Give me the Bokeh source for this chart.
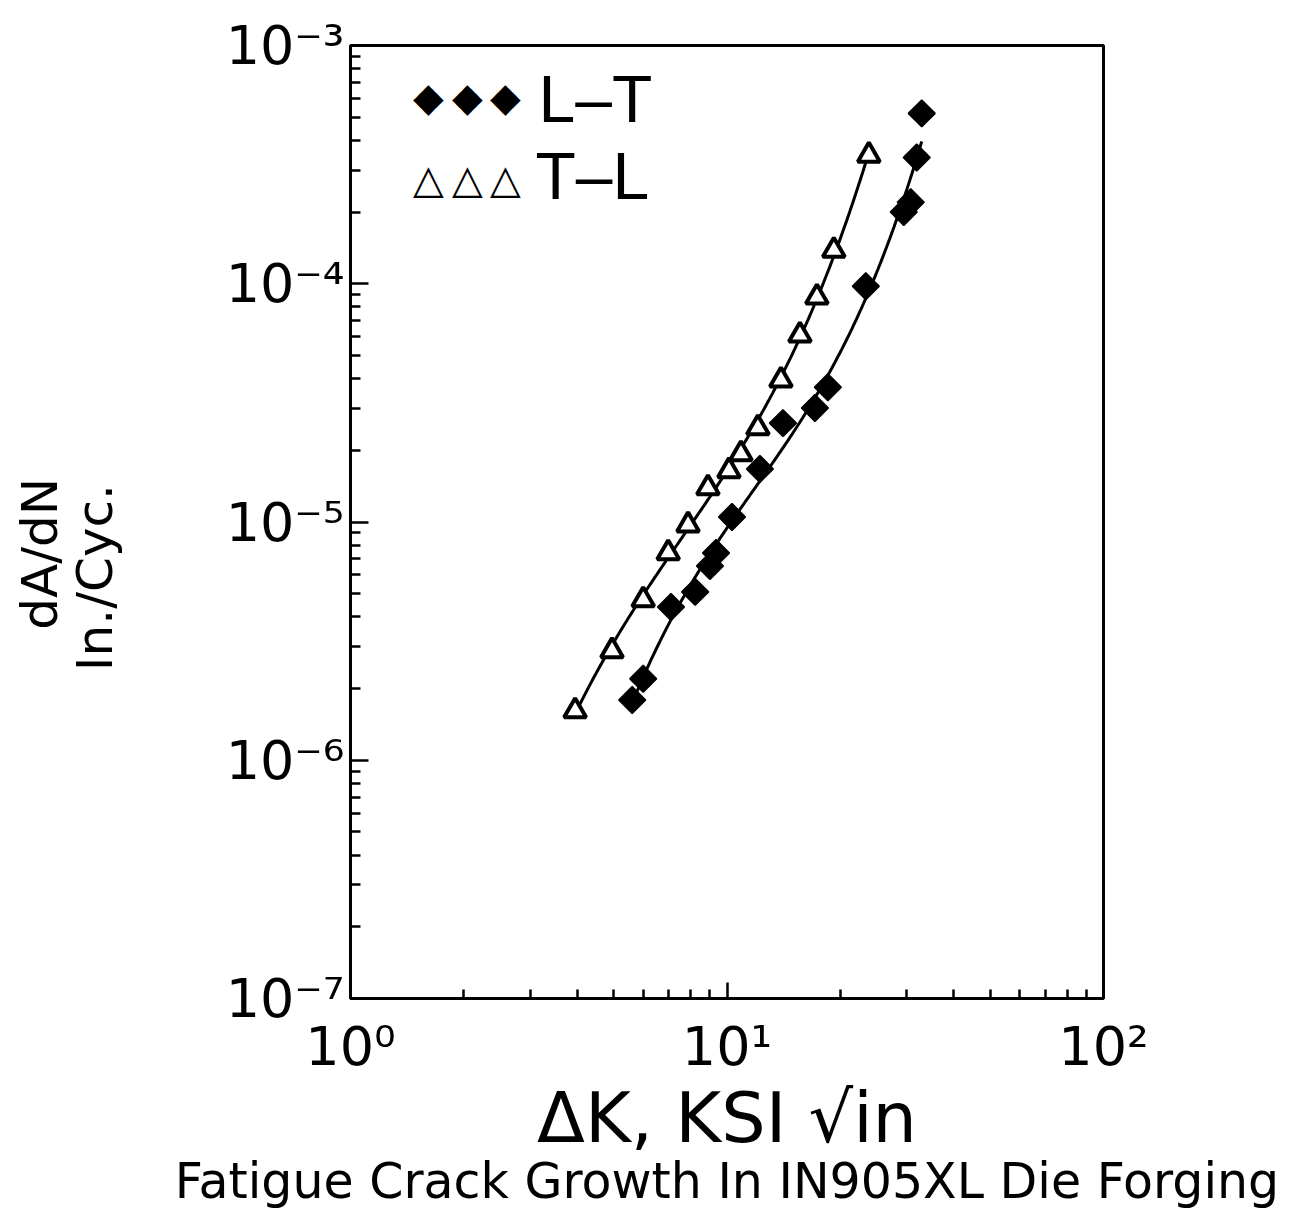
import numpy as np
from bokeh.plotting import figure
from bokeh.models import Range1d, FixedTicker, Label, LinearAxis
from bokeh.embed import file_html
from bokeh.resources import INLINE

# ---- data ----
tl_dk = [3.95, 4.95, 5.99, 6.98, 7.88, 8.90, 10.12, 10.89, 12.08, 13.91, 15.62, 17.33, 19.22, 23.81]
tl_dadn = [1.61e-6, 2.88e-6, 4.71e-6, 7.41e-6, 9.71e-6, 1.39e-5, 1.64e-5, 1.93e-5,
           2.48e-5, 3.94e-5, 6.08e-5, 8.78e-5, 1.38e-4, 3.46e-4]
lt_dk = [5.60, 5.99, 7.10, 8.23, 9.01, 9.35, 10.31, 12.23, 14.08, 17.12, 18.53, 23.37,
         29.48, 30.76, 31.91, 32.90]
lt_dadn = [1.79e-6, 2.20e-6, 4.40e-6, 5.09e-6, 6.54e-6, 7.41e-6, 1.05e-5, 1.67e-5,
           2.60e-5, 3.01e-5, 3.68e-5, 9.76e-5, 2.00e-4, 2.20e-4, 3.39e-4, 5.19e-4]

x_decades = [0, 1, 2]
y_decades = [-3, -4, -5, -6, -7]
legend_names = ["L\u2013T", "T\u2013L"]
x_title = "\u0394K, KSI \u221ain"
y_title_top = "dA/dN"
y_title_bottom = "In./Cyc."
caption = "Fatigue Crack Growth In IN905XL Die Forging"

FONT = "DejaVu Sans"
NBSP = "\u00a0"
SUP = str.maketrans("-0123456789", "\u207b\u2070\u00b9\u00b2\u00b3\u2074\u2075\u2076\u2077\u2078\u2079")


def fit_curve(xs, ys, deg=3, n=200):
    lx, ly = np.log10(xs), np.log10(ys)
    c = np.polyfit(lx, ly, deg)
    gx = np.linspace(lx.min(), lx.max(), n)
    return 10 ** gx, 10 ** np.polyval(c, gx)


p = figure(width=1300, height=1216, x_axis_type="log", y_axis_type="log",
           x_range=Range1d(1, 100), y_range=Range1d(1e-7, 1e-3),
           output_backend="svg", toolbar_location=None,
           min_border_left=350, min_border_right=197,
           min_border_top=45, min_border_bottom=218)
p.background_fill_color = "white"
p.border_fill_color = "white"
p.outline_line_color = "black"
p.outline_line_width = 3
p.xgrid.visible = False
p.ygrid.visible = False

xt = [10.0 ** d for d in x_decades]
xm = [m * 10.0 ** d for d in x_decades[:-1] for m in range(2, 10)]
yt = [10.0 ** d for d in y_decades]
ym = [m * 10.0 ** d for d in y_decades[1:] for m in range(2, 10)]

for ax, maj, mnr, decs, tin, tmin in ((p.xaxis[0], xt, xm, x_decades, 16, 9),
                                      (p.yaxis[0], yt, ym, y_decades, 18, 10)):
    ax.ticker = FixedTicker(ticks=maj, minor_ticks=mnr)
    ax.major_label_overrides = {t: "10" + str(d).translate(SUP) for t, d in zip(maj, decs)}
    ax.major_label_text_font = FONT
    ax.major_label_text_color = "black"
    ax.axis_line_width = 3
    ax.axis_line_color = "black"
    ax.major_tick_in = tin
    ax.major_tick_out = 0
    ax.minor_tick_in = tmin
    ax.minor_tick_out = 0
    ax.major_tick_line_width = 2.5
    ax.minor_tick_line_width = 2.5
    ax.major_tick_line_color = "black"
    ax.minor_tick_line_color = "black"
    ax.axis_label_text_font = FONT
    ax.axis_label_text_font_style = "normal"
    ax.axis_label_text_color = "black"

xa = p.xaxis[0]
xa.major_label_text_font_size = "54px"
xa.major_label_standoff = 16
xa.axis_label = x_title
xa.axis_label_text_font_size = "70px"
xa.axis_label_standoff = -4

ya = p.yaxis[0]
ya.major_label_text_font_size = "54px"
ya.major_label_standoff = 6
ya.axis_label = y_title_bottom + NBSP * 7
ya.axis_label_text_font_size = "50px"
ya.axis_label_standoff = 99


def bare_axis(label, size, standoff):
    return LinearAxis(ticker=FixedTicker(ticks=[]), axis_line_color=None,
                      major_tick_out=0, major_tick_in=0, minor_tick_out=0, minor_tick_in=0,
                      major_label_standoff=0, axis_label=label,
                      axis_label_text_font=FONT, axis_label_text_font_size=f"{size}px",
                      axis_label_text_font_style="normal", axis_label_text_color="black",
                      axis_label_standoff=standoff)


# second line of the y title and the caption, drawn as labels of bare extra axes
p.add_layout(bare_axis(y_title_top + NBSP * 4, 50, -6), "left")
p.add_layout(bare_axis(caption, 49, -9), "below")

# fitted curves
fx, fy = fit_curve(tl_dk, tl_dadn)
p.line(fx, fy, line_color="black", line_width=3)
gx, gy = fit_curve(lt_dk, lt_dadn)
p.line(gx, gy, line_color="black", line_width=3)

# data markers
p.scatter(lt_dk, lt_dadn, marker="square", angle=np.pi / 4, size=19,
          fill_color="black", line_color="black", line_width=1.5)
p.scatter(tl_dk, tl_dadn, marker="triangle", size=22,
          fill_color="white", line_color="black", line_width=4)


def lab(text, dx, dy, size, align="left", font=FONT, style="normal"):
    p.add_layout(Label(x=1, y=1e-3, x_offset=dx, y_offset=dy, text=text,
                       text_font=font, text_font_size=f"{size}px", text_font_style=style,
                       text_align=align, text_baseline="middle", text_color="black"))


# legend (three symbols then the name, as in the reference)
for dx in (78, 117, 155):
    lab("\u25c6", dx, -51, 40, align="center")
    lab("\u25b3", dx, -133, 40, align="center", style="bold")
lab(legend_names[0], 188, -53, 66, font="Liberation Sans")
lab(legend_names[1], 185, -130, 66, font="Liberation Sans")

open("out.html", "w").write(file_html(p, INLINE))
